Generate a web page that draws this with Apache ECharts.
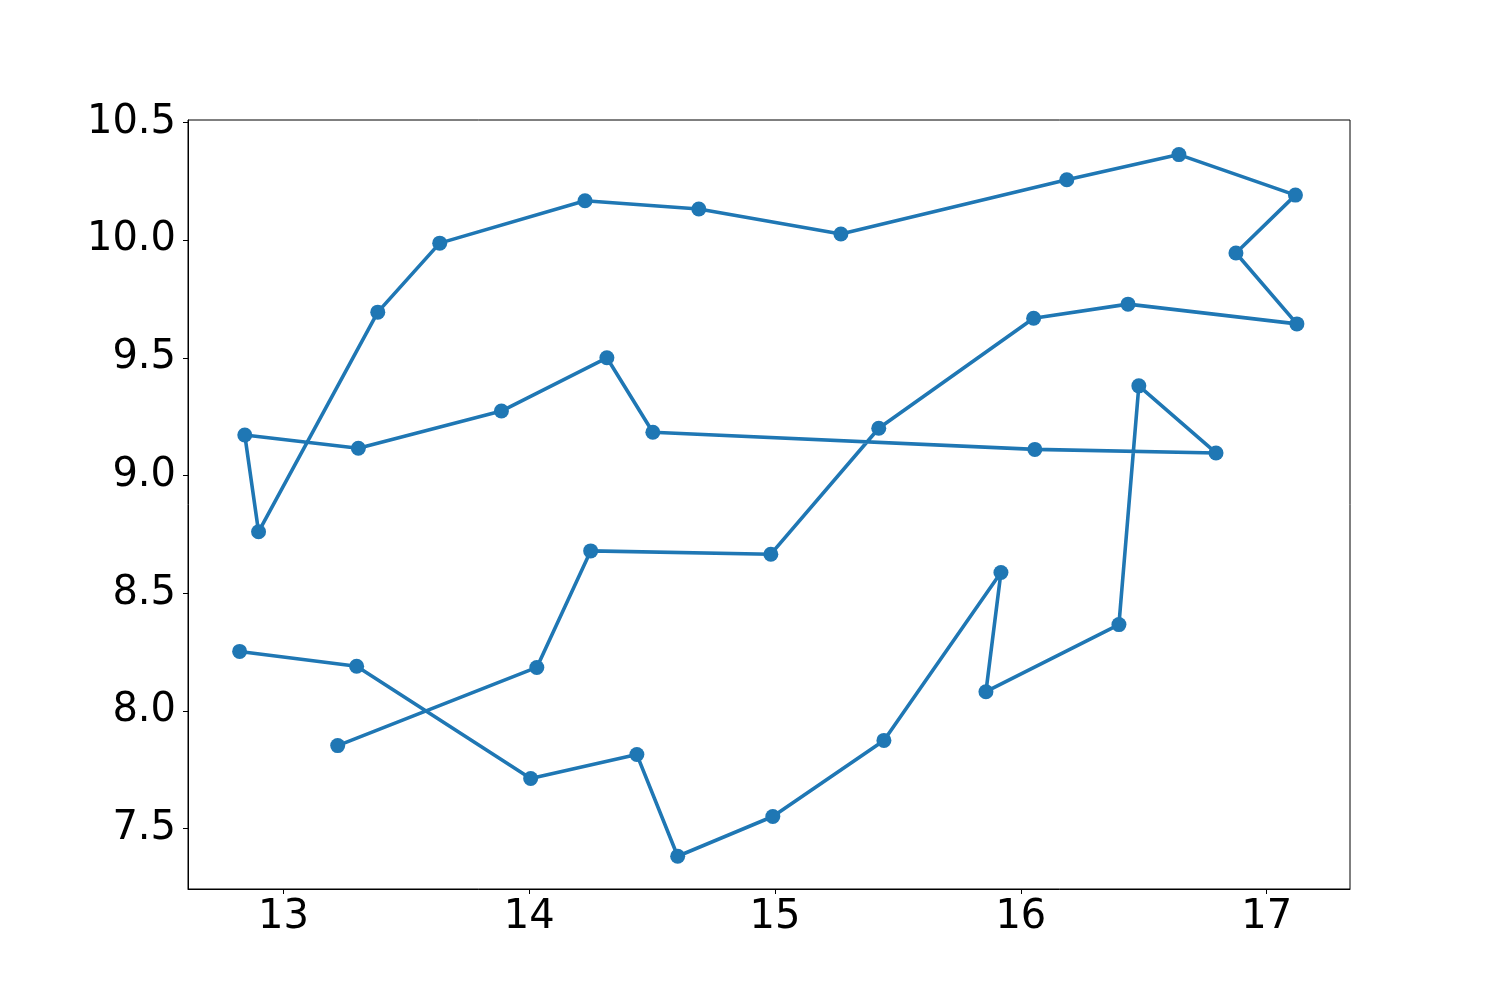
<!DOCTYPE html>
<html>
<head>
<meta charset="utf-8">
<script src="https://cdn.jsdelivr.net/npm/echarts@6/dist/echarts.min.js"></script>
<style>
  html, body { margin: 0; padding: 0; background: #fff; }
  #chart { width: 1500px; height: 1000px; }
</style>
</head>
<body>
<div id="chart"></div>
<script>
const xValues = [
    12.822, 13.298, 14.006, 14.438, 14.604, 14.991, 15.443, 15.919, 15.858, 16.399,
    16.480, 16.794, 16.057, 14.503, 14.316, 13.887, 13.305, 12.843, 12.899, 13.384,
    13.636, 14.227, 14.690, 15.268, 16.187, 16.643, 17.117, 16.875, 17.123, 16.436,
    16.052, 15.422, 14.983, 14.250, 14.031, 13.221
];
const yValues = [
    8.253, 8.190, 7.713, 7.815, 7.383, 7.552, 7.875, 8.588, 8.082, 8.367,
    9.381, 9.096, 9.111, 9.184, 9.500, 9.274, 9.116, 9.172, 8.761, 9.694,
    9.987, 10.167, 10.132, 10.026, 10.256, 10.363, 10.191, 9.945, 9.644, 9.728,
    9.668, 9.201, 8.666, 8.680, 8.185, 7.853
];
const xTicks = [13, 14, 15, 16, 17];
const yTicks = [7.5, 8.0, 8.5, 9.0, 9.5, 10.0, 10.5];

const points = xValues.map((x, i) => [x, yValues[i]]);

const labelStyle = {
    fontFamily: 'DejaVu Sans',
    fontSize: 40,
    color: '#000'
};

const option = {
    animation: false,
    backgroundColor: '#fff',
    grid: {
        left: 188,
        right: 150,
        top: 120,
        bottom: 111,
        show: true,
        borderColor: '#000',
        borderWidth: 1
    },
    xAxis: {
        type: 'value',
        min: 12.612,
        max: 17.339,
        splitLine: { show: false },
        axisLine: { show: true, onZero: false, lineStyle: { color: '#000', width: 1 } },
        axisTick: { show: true, inside: false, length: 5, customValues: xTicks, lineStyle: { color: '#000' } },
        axisLabel: Object.assign({
            margin: 9,
            customValues: xTicks,
            formatter: v => String(v)
        }, labelStyle)
    },
    yAxis: {
        type: 'value',
        min: 7.244,
        max: 10.51,
        splitLine: { show: false },
        axisLine: { show: true, onZero: false, lineStyle: { color: '#000', width: 1 } },
        axisTick: { show: true, inside: false, length: 5, customValues: yTicks, lineStyle: { color: '#000' } },
        axisLabel: Object.assign({
            margin: 12,
            customValues: yTicks,
            formatter: v => v.toFixed(1)
        }, labelStyle)
    },
    series: [{
        type: 'line',
        data: points,
        symbol: 'circle',
        symbolSize: 15,
        showAllSymbol: true,
        color: '#1f77b4',
        itemStyle: { color: '#1f77b4' },
        lineStyle: { color: '#1f77b4', width: 3.6 }
    }]
};

const chart = echarts.init(document.getElementById('chart'));
chart.setOption(option);
</script>
</body>
</html>
